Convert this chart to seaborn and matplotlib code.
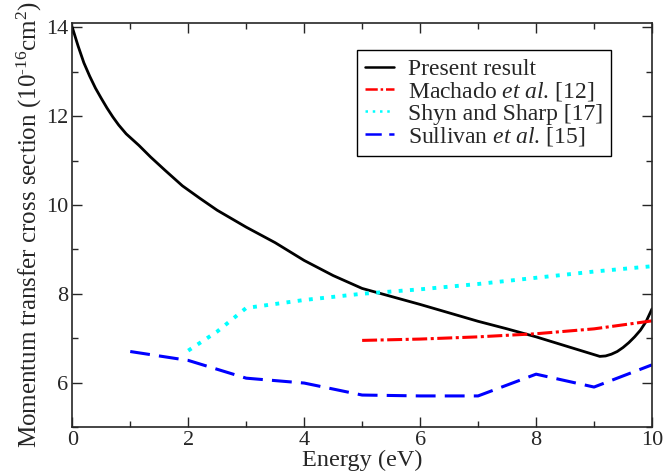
import numpy as np
import pandas as pd
import matplotlib
matplotlib.use("Agg")
import matplotlib.pyplot as plt
import seaborn as sns
from matplotlib.ticker import MultipleLocator

sns.set_style("ticks")
plt.rcParams['font.family'] = ['Liberation Serif', 'DejaVu Serif']
plt.rcParams['mathtext.fontset'] = 'custom'
plt.rcParams['mathtext.rm'] = 'Liberation Serif'
plt.rcParams['mathtext.it'] = 'Liberation Serif:italic'

# Data
present_x = [0, 0.1, 0.2, 0.3, 0.4, 0.5, 0.6, 0.7, 0.8, 0.93, 1.15, 1.35, 1.6, 1.9, 2.2, 2.5, 3, 3.5, 4, 4.5, 5,
             6, 7, 7.5, 8, 8.5, 9.0, 9.1, 9.2, 9.3, 9.4, 9.5, 9.6, 9.7, 9.8, 9.9, 10]
present_y = [14.0, 13.58, 13.2, 12.9, 12.63, 12.4, 12.18, 11.98, 11.8, 11.6, 11.34, 11.08, 10.78, 10.43, 10.15, 9.88,
             9.5, 9.15, 8.75, 8.41, 8.12, 7.76, 7.38, 7.21, 7.03, 6.83, 6.63, 6.59, 6.6, 6.64, 6.7, 6.79, 6.9,
             7.03, 7.18, 7.38, 7.66]

machado_x = [5, 6, 7, 8, 9, 10]
machado_y = [6.95, 6.98, 7.03, 7.1, 7.21, 7.39]

shyn_x = [2, 2.5, 3, 4, 5, 6, 7, 8, 9, 10]
shyn_y = [6.72, 7.15, 7.68, 7.86, 8.0, 8.1, 8.22, 8.36, 8.5, 8.62]

sullivan_x = [1, 2, 3, 4, 5, 6, 7, 8, 9, 10]
sullivan_y = [6.7, 6.5, 6.1, 5.99, 5.72, 5.7, 5.7, 6.19, 5.9, 6.4]

fig = plt.figure(figsize=(6.66, 4.75), dpi=100)
ax = fig.add_axes([0.1085, 0.101, 0.8705, 0.851])

sns.lineplot(x=present_x, y=present_y, ax=ax, color='black', lw=2.0,
             label='Present result', sort=False)
sns.lineplot(x=machado_x, y=machado_y, ax=ax, color='red', lw=2.2,
             label='Machado $\\mathit{et\\ al}$. [12]')
ax.lines[-1].set_dashes([4.9, 1.15, 1, 1.15])
sns.lineplot(x=shyn_x, y=shyn_y, ax=ax, color='cyan', lw=2.8,
             label='Shyn and Sharp [17]')
ax.lines[-1].set_dashes([1, 1.9])
sns.lineplot(x=sullivan_x, y=sullivan_y, ax=ax, color='blue', lw=2.2,
             label='Sullivan $\\mathit{et\\ al}$. [15]')
ax.lines[-1].set_dashes([6.5, 3])

ax.set_xlim(0, 10)
ax.set_ylim(5, 14.1)
ax.xaxis.set_major_locator(MultipleLocator(2))
ax.xaxis.set_minor_locator(MultipleLocator(1))
ax.yaxis.set_major_locator(MultipleLocator(2))
ax.yaxis.set_minor_locator(MultipleLocator(1))
ax.set_yticks([6, 8, 10, 12, 14])
ax.tick_params(which='both', direction='in', top=True, right=True, labelsize=16, width=1.0)
ax.tick_params(which='major', length=7, pad=3)
ax.tick_params(which='minor', length=4)
for s in ax.spines.values():
    s.set_linewidth(1.2)

ax.set_xlabel('Energy (eV)', fontsize=17.5, labelpad=0)
ax.set_ylabel('Momentum transfer cross section (10$^{\u201016}$cm$^{2}$)', fontsize=18, labelpad=1)

leg = ax.legend(loc='upper left', bbox_to_anchor=(0.491, 0.932), fontsize=17,
                handlelength=1.2, handletextpad=0.6, labelspacing=0.0,
                borderpad=0.35, borderaxespad=0, fancybox=False, framealpha=1,
                edgecolor='black')
leg.get_frame().set_linewidth(1.0)
for h in leg.get_lines():
    h.set_linewidth(1.8)

fig.savefig('out.png', dpi=100)
